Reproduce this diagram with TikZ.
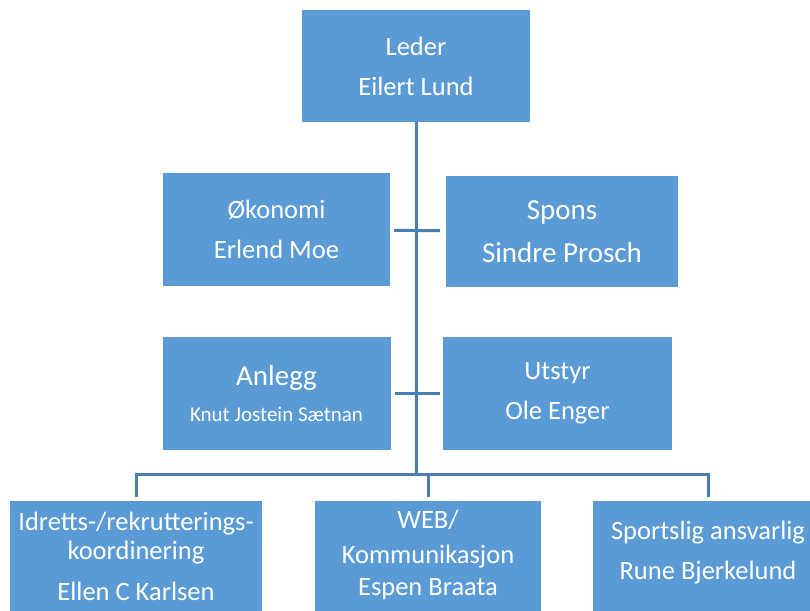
\documentclass[tikz,border=0pt]{standalone}
\usepackage{fontspec}
\setmainfont{Carlito}
\definecolor{boxblue}{HTML}{5B9BD5}
\definecolor{lineblue}{HTML}{4A7EB3}
\begin{document}
\begin{tikzpicture}[x=1pt,y=-1pt]
        \useasboundingbox (0,0) rectangle (810,610);

        \begin{scope}[every node/.style={fill=boxblue,text=white,align=center,inner sep=0pt,
            font=\fontsize{26.5}{40}\selectfont}]
          \node[minimum width=228pt,minimum height=112pt] (leder)   at (416,66)    {Leder\\Eilert Lund};
          \node[minimum width=227pt,minimum height=113pt] (okonomi) at (276.5,229.5) {Økonomi\\Erlend Moe};
          \node[minimum width=232pt,minimum height=111pt,font=\fontsize{29}{43}\selectfont]
                                                          (spons)   at (562,231.5)   {Spons\\Sindre Prosch};
          \node[minimum width=228pt,minimum height=113pt] (anlegg)  at (276.5,393.5)
                {{\fontsize{29}{37}\selectfont Anlegg}\\[-4pt]{\fontsize{21}{37}\selectfont Knut Jostein Sætnan}};
          \node[minimum width=229pt,minimum height=113pt] (utstyr)  at (557.5,393.5) {Utstyr\\Ole Enger};
        \end{scope}

        \begin{scope}[every node/.style={fill=boxblue,text=white,align=center,inner sep=0pt,
            anchor=north,font=\fontsize{26.5}{29}\selectfont}]
          \node[minimum width=252pt,text height=99pt,text depth=13pt] (idrett) at (136,501)
                {Idretts-/rekrutterings-\\koordinering\\[12pt]Ellen C Karlsen};
          \node[minimum width=226pt,text height=94pt,text depth=18pt] (web)    at (428,501)
                {WEB/\\[6pt]Kommunikasjon\\[3pt]Espen Braata};
          \node[minimum width=230pt,text height=78pt,text depth=34pt] (sport)  at (708,501)
                {Sportslig ansvarlig\\[11pt]Rune Bjerkelund};
        \end{scope}

        \coordinate (bus) at (416,474);

        \begin{scope}[draw=lineblue,line width=3pt]
          \path (leder)   edge (bus);
          \path (okonomi) edge[shorten <=4pt,shorten >=6pt] (spons);
          \path (anlegg)  edge[shorten <=4pt,shorten >=3pt] (utstyr);
          \draw[shorten <=4pt,shorten >=4pt] (idrett.north) |- (bus) -| (sport.north);
          \draw[shorten <=4pt] (web.north) -- (web.north |- bus);
        \end{scope}

      \end{tikzpicture}
\end{document}
